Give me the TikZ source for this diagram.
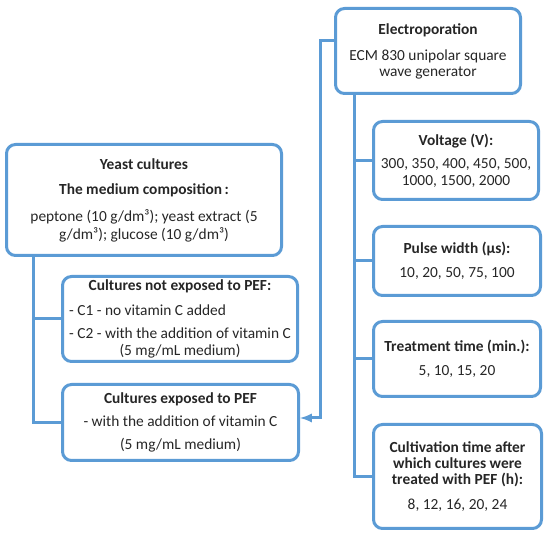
\documentclass[tikz,border=0pt]{standalone}
\usepackage{fontspec}
\setmainfont{Carlito}
\definecolor{boxblue}{HTML}{5B9BD5}
\definecolor{txt}{HTML}{262626}
\begin{document}
\begin{tikzpicture}[x=1pt,y=-1pt,>=latex,
    box/.style={draw=boxblue,line width=3pt,rounded corners=9pt,align=center,text=txt,inner sep=0pt,font=\fontsize{15.4}{15.5}\selectfont},
    link/.style={draw=boxblue,line width=3pt}]
\useasboundingbox (0,0) rectangle (550,537);
\node[box,minimum width=275pt,minimum height=111pt] (yeast) at (144,200)
    {\textbf{Yeast cultures}\\[9.5pt]\textbf{The medium composition\,:}\\[11.5pt]peptone (10 g/dm³); yeast extract (5\\[2.5pt]g/dm³); glucose (10 g/dm³)};
\node[box,minimum width=235pt,minimum height=85pt] (notexp) at (180,319)
    {\textbf{Cultures not exposed to PEF:}\\[9.5pt]\rlap{- C1 - no vitamin C added}\phantom{- C2 - with the addition of vitamin C}\\[7.5pt]- C2 - with the addition of vitamin C\\[1.5pt](5 mg/mL medium)};
\node[box,minimum width=236pt,minimum height=76pt] (exp) at (180.5,422.5)
    {\textbf{Cultures exposed to PEF}\\[7.5pt]- with the addition of vitamin C\\[7.5pt](5 mg/mL medium)};
\node[box,minimum width=185pt,minimum height=85pt] (electro) at (428,51)
    {\textbf{Electroporation}\\[11pt]ECM 830 unipolar square\\wave generator};
\node[box,minimum width=165pt,minimum height=78pt] (volt) at (456,160.5)
    {\textbf{Voltage (V):}\\[8pt]300, 350, 400, 450, 500,\\[1pt]1000, 1500, 2000};
\node[box,minimum width=167pt,minimum height=69pt] (pulse) at (457,261)
    {\textbf{Pulse width (µs):}\\[9pt]10, 20, 50, 75, 100};
\node[box,minimum width=167pt,minimum height=75pt] (treat) at (457,359)
    {\textbf{Treatment time (min.):}\\[8pt]5, 10, 15, 20};
\node[box,minimum width=168pt,minimum height=104pt] (cultiv) at (457.5,476.5)
    {\textbf{Cultivation time after}\\\textbf{which cultures were}\\[0.5pt]\textbf{treated with PEF (h):}\\[9.5pt]8, 12, 16, 20, 24};
\draw[link] (33,0 |- yeast.south) |- (exp.west);
\draw[link] (33,0 |- notexp.west) -- (notexp.west);
\draw[link,->] (electro.west |- 0,41) -| (320,418) -- (exp.east |- 0,418);
\draw[link] (354,0 |- electro.south) |- (cultiv.west);
\foreach \n in {volt,pulse,treat}
{
    \draw[link] (354,0 |- \n.west) -- (\n.west);
}
\end{tikzpicture}
\end{document}
